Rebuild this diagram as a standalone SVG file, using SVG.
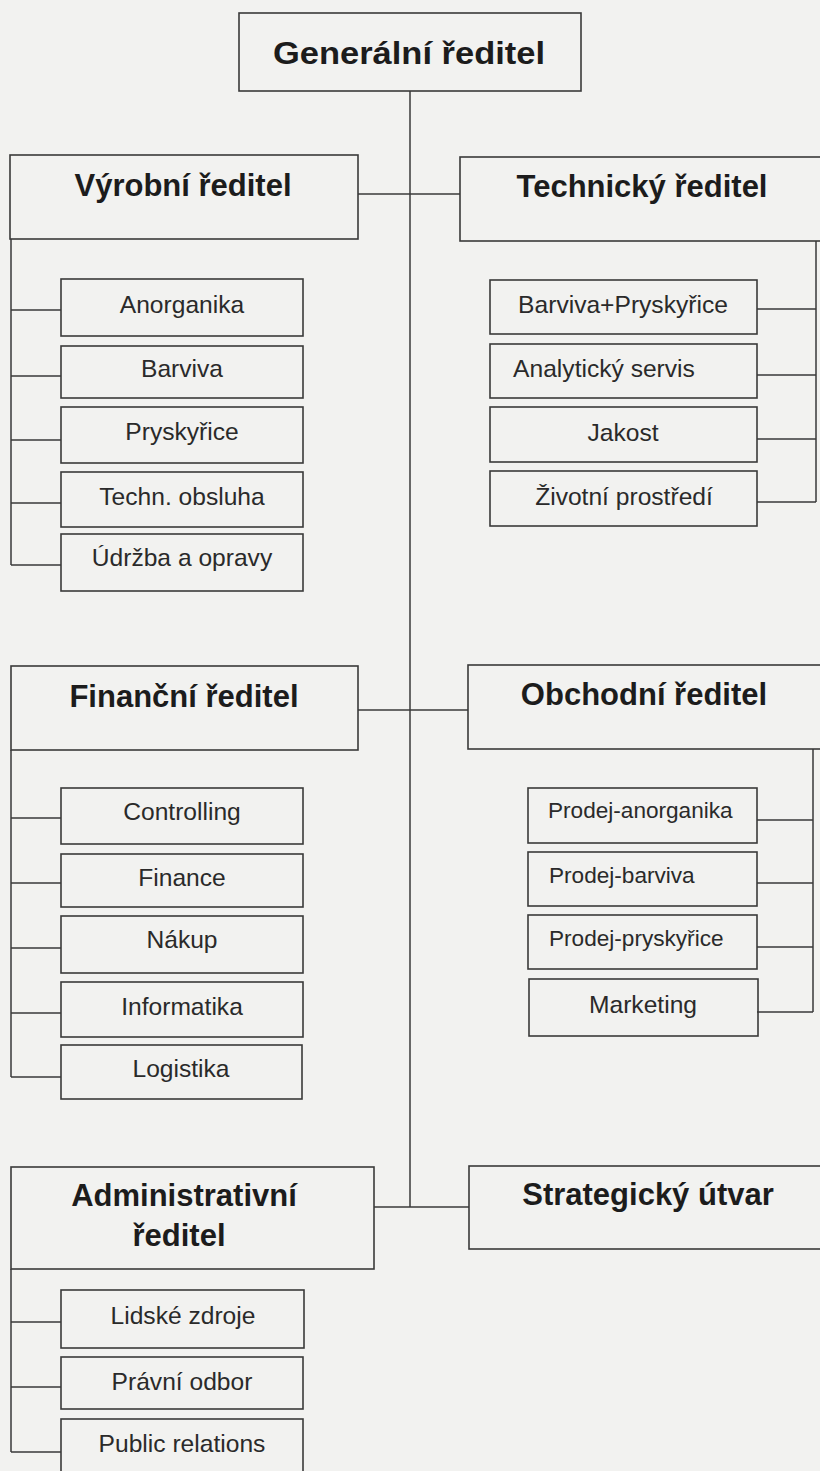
<svg xmlns="http://www.w3.org/2000/svg" width="820" height="1471" viewBox="0 0 820 1471">
<style>
.bg{fill:#f2f2f0}
.box{fill:none;stroke:#3a3a3a;stroke-width:1.6}
.ln{fill:none;stroke:#3a3a3a;stroke-width:1.5}
.h{font-family:"Liberation Sans",Arial,sans-serif;font-weight:bold;font-size:31px;fill:#1c1c1c;text-anchor:middle}
.t{font-family:"Liberation Sans",Arial,sans-serif;font-size:24.6px;fill:#2a2a2a;text-anchor:middle}
.tl{font-family:"Liberation Sans",Arial,sans-serif;font-size:22.6px;fill:#2a2a2a}
</style>
<rect class="bg" x="0" y="0" width="820" height="1471"/>
<g id="connectors">
<path class="ln" d="M410 91V1207"/>
<path class="ln" d="M358 194H460"/>
<path class="ln" d="M358 710H468"/>
<path class="ln" d="M374 1207H469"/>
<path class="ln" d="M11 239V565M11 310H61M11 376H61M11 440H61M11 503H61M11 565H61"/>
<path class="ln" d="M816 241V502M757 309H816M757 375H816M757 439H816M757 502H816"/>
<path class="ln" d="M11 750V1077M11 818H61M11 883H61M11 948H61M11 1013H61M11 1077H61"/>
<path class="ln" d="M813 749V1012M757 820H813M757 883H813M757 947H813M757 1012H813"/>
<path class="ln" d="M11 1269V1452M11 1322H61M11 1387H61M11 1452H61"/>
</g>
<g id="generalni"><rect class="box" x="239" y="13" width="342" height="78"/><text class="h" x="409" y="64" font-size="42" textLength="272" lengthAdjust="spacingAndGlyphs">Generální ředitel</text></g>
<g id="vyrobni"><rect class="box" x="10" y="155" width="348" height="84"/><text class="h" x="183" y="196">Výrobní ředitel</text></g>
<g id="technicky"><rect class="box" x="460" y="157" width="370" height="84"/><text class="h" x="642" y="197">Technický ředitel</text></g>
<g id="anorganika"><rect class="box" x="61" y="279" width="242" height="57"/><text class="t" x="182" y="313">Anorganika</text></g>
<g id="barviva"><rect class="box" x="61" y="346" width="242" height="52"/><text class="t" x="182" y="377">Barviva</text></g>
<g id="pryskyrice"><rect class="box" x="61" y="407" width="242" height="56"/><text class="t" x="182" y="440">Pryskyřice</text></g>
<g id="techn-obsluha"><rect class="box" x="61" y="472" width="242" height="55"/><text class="t" x="182" y="505">Techn. obsluha</text></g>
<g id="udrzba"><rect class="box" x="61" y="534" width="242" height="57"/><text class="t" x="182" y="566">Údržba a opravy</text></g>
<g id="barviva-pryskyrice"><rect class="box" x="490" y="280" width="267" height="54"/><text class="t" x="623" y="313">Barviva+Pryskyřice</text></g>
<g id="analyticky"><rect class="box" x="490" y="344" width="267" height="54"/><text class="t" x="604" y="377">Analytický servis</text></g>
<g id="jakost"><rect class="box" x="490" y="407" width="267" height="55"/><text class="t" x="623" y="441">Jakost</text></g>
<g id="zivotni"><rect class="box" x="490" y="471" width="267" height="55"/><text class="t" x="624" y="505">Životní prostředí</text></g>
<g id="financni"><rect class="box" x="11" y="666" width="347" height="84"/><text class="h" x="184" y="707">Finanční ředitel</text></g>
<g id="obchodni"><rect class="box" x="468" y="665" width="362" height="84"/><text class="h" x="644" y="705">Obchodní ředitel</text></g>
<g id="controlling"><rect class="box" x="61" y="788" width="242" height="56"/><text class="t" x="182" y="820">Controlling</text></g>
<g id="finance"><rect class="box" x="61" y="854" width="242" height="53"/><text class="t" x="182" y="886">Finance</text></g>
<g id="nakup"><rect class="box" x="61" y="916" width="242" height="57"/><text class="t" x="182" y="948">Nákup</text></g>
<g id="informatika"><rect class="box" x="61" y="982" width="242" height="55"/><text class="t" x="182" y="1015">Informatika</text></g>
<g id="logistika"><rect class="box" x="61" y="1045" width="241" height="54"/><text class="t" x="181" y="1077">Logistika</text></g>
<g id="prodej-anorganika"><rect class="box" x="528" y="788" width="229" height="55"/><text class="tl" x="548" y="818">Prodej-anorganika</text></g>
<g id="prodej-barviva"><rect class="box" x="528" y="852" width="229" height="54"/><text class="tl" x="549" y="883" font-size="24.6">Prodej-barviva</text></g>
<g id="prodej-pryskyrice"><rect class="box" x="528" y="915" width="229" height="54"/><text class="tl" x="549" y="946">Prodej-pryskyřice</text></g>
<g id="marketing"><rect class="box" x="529" y="979" width="229" height="57"/><text class="t" x="643" y="1013">Marketing</text></g>
<g id="administrativni"><rect class="box" x="11" y="1167" width="363" height="102"/><text class="h" x="184" y="1206">Administrativní</text><text class="h" x="179" y="1246">ředitel</text></g>
<g id="strategicky"><rect class="box" x="469" y="1166" width="361" height="83"/><text class="h" x="648" y="1205">Strategický útvar</text></g>
<g id="lidske"><rect class="box" x="61" y="1290" width="243" height="58"/><text class="t" x="183" y="1324">Lidské zdroje</text></g>
<g id="pravni"><rect class="box" x="61" y="1357" width="242" height="52"/><text class="t" x="182" y="1390">Právní odbor</text></g>
<g id="public"><rect class="box" x="61" y="1419" width="242" height="70"/><text class="t" x="182" y="1452">Public relations</text></g>
</svg>
